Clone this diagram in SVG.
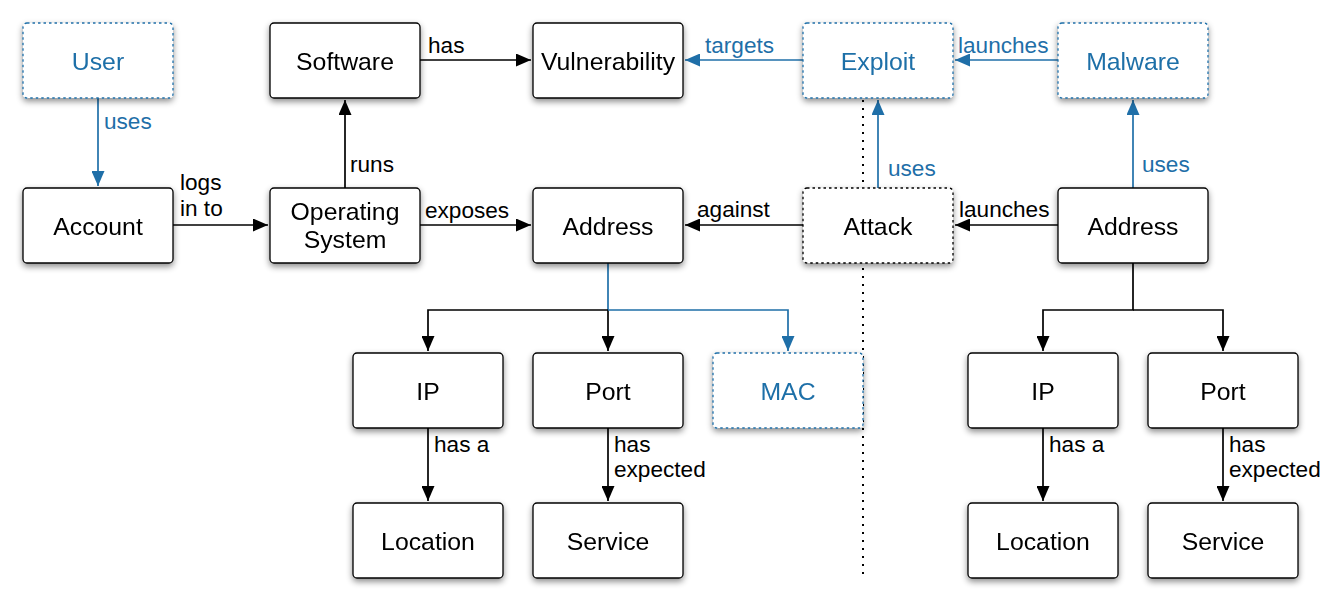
<svg xmlns="http://www.w3.org/2000/svg" width="1322" height="604" viewBox="0 0 1322 604">
<style>
.n rect{fill:#fff;stroke:#000;stroke-width:1.3}
.b rect{stroke:#1f6fa8;stroke-dasharray:2.5 3}
.d rect{stroke-dasharray:2.5 3}
.n text{font-family:"Liberation Sans",Arial,sans-serif;font-size:24.8px;text-anchor:middle;fill:#000}
.b text{fill:#1f6fa8}
.c path{fill:none;stroke:#000;stroke-width:1.7}
.c path.bl{stroke:#1f6fa8}
.l{font-family:"Liberation Sans",Arial,sans-serif;font-size:22.6px;fill:#000}
.l.bl{fill:#1f6fa8}
</style>
<defs>
<filter id="sh" x="-20%" y="-20%" width="140%" height="150%">
<feDropShadow dx="0" dy="3" stdDeviation="3" flood-color="#000" flood-opacity="0.45"/>
</filter>
<marker id="ak" viewBox="0 0 15 13" refX="15" refY="6.5" markerWidth="15" markerHeight="13" markerUnits="userSpaceOnUse" orient="auto"><path d="M0,0 L15,6.5 L0,13 Z" fill="#000"/></marker>
<marker id="ab" viewBox="0 0 15 13" refX="15" refY="6.5" markerWidth="15" markerHeight="13" markerUnits="userSpaceOnUse" orient="auto"><path d="M0,0 L15,6.5 L0,13 Z" fill="#1f6fa8"/></marker>
</defs>
<path d="M863,100 V580" stroke="#000" stroke-width="2" stroke-dasharray="2 6" fill="none"/>
<g class="c" id="connectors">
<path class="bl" d="M98,98 V186" marker-end="url(#ab)"/>
<path d="M173,225 H268" marker-end="url(#ak)"/>
<path d="M345,188 V100" marker-end="url(#ak)"/>
<path d="M420,60 H531" marker-end="url(#ak)"/>
<path d="M420,225 H531" marker-end="url(#ak)"/>
<path class="bl" d="M803,60 H685" marker-end="url(#ab)"/>
<path class="bl" d="M1058,60 H955" marker-end="url(#ab)"/>
<path d="M803,225 H685" marker-end="url(#ak)"/>
<path d="M1058,225 H955" marker-end="url(#ak)"/>
<path class="bl" d="M878,188 V100" marker-end="url(#ab)"/>
<path class="bl" d="M1133,188 V100" marker-end="url(#ab)"/>
<path class="bl" d="M608,263 V310"/>
<path d="M608,310 H428 V351" marker-end="url(#ak)"/>
<path d="M608,310 V351" marker-end="url(#ak)"/>
<path class="bl" d="M608,310 H788 V351" marker-end="url(#ab)"/>
<path d="M428,428 V501" marker-end="url(#ak)"/>
<path d="M608,428 V501" marker-end="url(#ak)"/>
<path d="M1133,263 V310 H1043 V351" marker-end="url(#ak)"/>
<path d="M1133,310 H1223 V351" marker-end="url(#ak)"/>
<path d="M1043,428 V501" marker-end="url(#ak)"/>
<path d="M1223,428 V501" marker-end="url(#ak)"/>
</g>
<g id="labels">
<text class="l bl" x="104" y="129">uses</text>
<text class="l" x="180" y="190">logs</text>
<text class="l" x="180" y="216">in to</text>
<text class="l" x="350" y="172">runs</text>
<text class="l" x="428" y="53">has</text>
<text class="l" x="425" y="218">exposes</text>
<text class="l bl" x="705" y="53">targets</text>
<text class="l bl" x="958" y="53">launches</text>
<text class="l" x="697" y="217">against</text>
<text class="l" x="959" y="217">launches</text>
<text class="l bl" x="888" y="176">uses</text>
<text class="l bl" x="1142" y="172">uses</text>
<text class="l" x="434" y="452">has a</text>
<text class="l" x="614" y="452">has</text>
<text class="l" x="614" y="477">expected</text>
<text class="l" x="1049" y="452">has a</text>
<text class="l" x="1229" y="452">has</text>
<text class="l" x="1229" y="477">expected</text>
</g>
<g id="user" class="n b" filter="url(#sh)"><rect x="23" y="23" width="150" height="75" rx="4"/><text x="98" y="69.5">User</text></g>
<g id="account" class="n" filter="url(#sh)"><rect x="23" y="188" width="150" height="75" rx="4"/><text x="98" y="234.5">Account</text></g>
<g id="software" class="n" filter="url(#sh)"><rect x="270" y="23" width="150" height="75" rx="4"/><text x="345" y="69.5">Software</text></g>
<g id="os" class="n" filter="url(#sh)"><rect x="270" y="188" width="150" height="75" rx="4"/><text x="345" y="220">Operating</text><text x="345" y="248">System</text></g>
<g id="vulnerability" class="n" filter="url(#sh)"><rect x="533" y="23" width="150" height="75" rx="4"/><text x="608" y="69.5">Vulnerability</text></g>
<g id="address1" class="n" filter="url(#sh)"><rect x="533" y="188" width="150" height="75" rx="4"/><text x="608" y="234.5">Address</text></g>
<g id="exploit" class="n b" filter="url(#sh)"><rect x="803" y="23" width="150" height="75" rx="4"/><text x="878" y="69.5">Exploit</text></g>
<g id="attack" class="n d" filter="url(#sh)"><rect x="803" y="188" width="150" height="75" rx="4"/><text x="878" y="234.5">Attack</text></g>
<g id="malware" class="n b" filter="url(#sh)"><rect x="1058" y="23" width="150" height="75" rx="4"/><text x="1133" y="69.5">Malware</text></g>
<g id="address2" class="n" filter="url(#sh)"><rect x="1058" y="188" width="150" height="75" rx="4"/><text x="1133" y="234.5">Address</text></g>
<g id="ip1" class="n" filter="url(#sh)"><rect x="353" y="353" width="150" height="75" rx="4"/><text x="428" y="399.5">IP</text></g>
<g id="port1" class="n" filter="url(#sh)"><rect x="533" y="353" width="150" height="75" rx="4"/><text x="608" y="399.5">Port</text></g>
<g id="mac" class="n b" filter="url(#sh)"><rect x="713" y="353" width="150" height="75" rx="4"/><text x="788" y="399.5">MAC</text></g>
<g id="location1" class="n" filter="url(#sh)"><rect x="353" y="503" width="150" height="75" rx="4"/><text x="428" y="549.5">Location</text></g>
<g id="service1" class="n" filter="url(#sh)"><rect x="533" y="503" width="150" height="75" rx="4"/><text x="608" y="549.5">Service</text></g>
<g id="ip2" class="n" filter="url(#sh)"><rect x="968" y="353" width="150" height="75" rx="4"/><text x="1043" y="399.5">IP</text></g>
<g id="port2" class="n" filter="url(#sh)"><rect x="1148" y="353" width="150" height="75" rx="4"/><text x="1223" y="399.5">Port</text></g>
<g id="location2" class="n" filter="url(#sh)"><rect x="968" y="503" width="150" height="75" rx="4"/><text x="1043" y="549.5">Location</text></g>
<g id="service2" class="n" filter="url(#sh)"><rect x="1148" y="503" width="150" height="75" rx="4"/><text x="1223" y="549.5">Service</text></g>
</svg>
